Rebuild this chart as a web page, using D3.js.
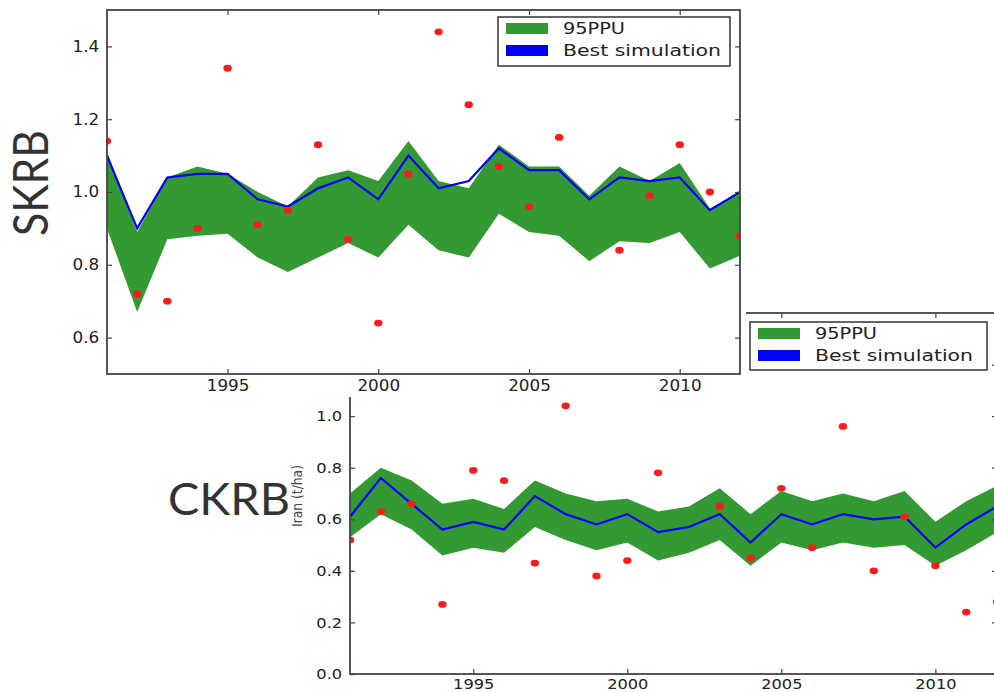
<!DOCTYPE html>
<html>
<head>
<meta charset="utf-8">
<title>SKRB / CKRB yield</title>
<script src="https://cdn.jsdelivr.net/npm/d3@7"></script>
<style>
body { margin: 0; background: #fff; }
svg text { font-family: "DejaVu Sans", sans-serif; fill: #222; }
.tick line { stroke: #444; stroke-width: 1.2; }
.frame { fill: none; stroke: #444; stroke-width: 1.8; }
.band { fill: #339933; }
.best { fill: none; stroke: #0000ff; stroke-width: 2.2; }
.obs { fill: #ff1a1a; }
.legend-box { fill: #fff; stroke: #333; stroke-width: 1.5; }
</style>
</head>
<body>
<svg id="chart" width="994" height="692"></svg>
<script>
// years on the x axis
var years = [1991,1992,1993,1994,1995,1996,1997,1998,1999,2000,2001,2002,2003,2004,2005,2006,2007,2008,2009,2010,2011,2012];
var yearTicks = [1995, 2000, 2005, 2010];

// SKRB (top panel)
var skrbBest  = [1.10,0.90,1.04,1.05,1.05,0.98,0.96,1.01,1.04,0.98,1.10,1.01,1.03,1.12,1.06,1.06,0.98,1.04,1.03,1.04,0.95,1.00];
var skrbUpper = [1.11,0.89,1.04,1.07,1.05,1.00,0.96,1.04,1.06,1.03,1.14,1.03,1.01,1.13,1.07,1.07,0.99,1.07,1.03,1.08,0.955,1.00];
var skrbLower = [0.90,0.67,0.87,0.88,0.885,0.82,0.78,0.82,0.86,0.82,0.91,0.84,0.82,0.94,0.89,0.88,0.81,0.865,0.86,0.89,0.79,0.825];
var skrbObs   = [1.14,0.72,0.70,0.90,1.34,0.91,0.95,1.13,0.87,0.64,1.05,1.44,1.24,1.07,0.96,1.15,null,0.84,0.99,1.13,1.00,0.88];
var skrbTicks = [0.6, 0.8, 1.0, 1.2, 1.4];

// CKRB (bottom panel)
var ckrbBest  = [0.61,0.76,0.66,0.56,0.59,0.56,0.69,0.62,0.58,0.62,0.55,0.57,0.62,0.51,0.62,0.58,0.62,0.60,0.61,0.49,0.58,0.65];
var ckrbUpper = [0.70,0.80,0.75,0.66,0.68,0.64,0.75,0.70,0.67,0.68,0.63,0.65,0.72,0.62,0.71,0.67,0.70,0.67,0.71,0.59,0.67,0.73];
var ckrbLower = [0.53,0.62,0.56,0.46,0.49,0.47,0.57,0.52,0.48,0.51,0.44,0.47,0.52,0.42,0.51,0.48,0.51,0.49,0.50,0.42,0.48,0.55];
var ckrbObs   = [0.52,0.63,0.66,0.27,0.79,0.75,0.43,1.04,0.38,0.44,0.78,null,0.65,0.45,0.72,0.49,0.96,0.40,0.61,0.42,0.24,0.28];
var ckrbTicks = [0.0, 0.2, 0.4, 0.6, 0.8, 1.0, 1.2];

var legendLabels = ["95PPU", "Best simulation"];

var svg = d3.select("#chart");

function drawPanel(id, box, yDomain, yTicks, best, upper, lower, obs, fontSize) {
    var x = d3.scaleLinear().domain([1991, 2012]).range([box.x0, box.x1]);
    var y = d3.scaleLinear().domain(yDomain).range([box.y1, box.y0]);
    var g = svg.append("g");

    g.append("clipPath").attr("id", id)
        .append("rect")
        .attr("x", box.x0).attr("y", box.y0)
        .attr("width", box.x1 - box.x0).attr("height", box.y1 - box.y0);

    var plot = g.append("g").attr("clip-path", "url(#" + id + ")");

    var rows = years.map(function(yr, i) {
        return { year: yr, best: best[i], hi: upper[i], lo: lower[i], obs: obs[i] };
    });

    var area = d3.area()
        .x(function(d) { return x(d.year); })
        .y0(function(d) { return y(d.lo); })
        .y1(function(d) { return y(d.hi); });
    plot.append("path").attr("class", "band").attr("d", area(rows));

    var line = d3.line()
        .x(function(d) { return x(d.year); })
        .y(function(d) { return y(d.best); });
    plot.append("path").attr("class", "best").attr("d", line(rows));

    plot.selectAll("ellipse")
        .data(rows.filter(function(d) { return d.obs !== null; }))
        .enter().append("ellipse")
        .attr("class", "obs")
        .attr("cx", function(d) { return x(d.year); })
        .attr("cy", function(d) { return y(d.obs); })
        .attr("rx", 4.2).attr("ry", 3.4);

    // axes, ticks pointing inward like old matplotlib
    var xb = g.append("g").attr("transform", "translate(0," + box.y1 + ")")
        .call(d3.axisBottom(x).tickValues(yearTicks).tickFormat(d3.format("d"))
            .tickSizeInner(-5).tickSizeOuter(0).tickPadding(box.xPad));
    var xt = g.append("g").attr("transform", "translate(0," + box.y0 + ")")
        .call(d3.axisTop(x).tickValues(yearTicks).tickFormat("")
            .tickSizeInner(-5).tickSizeOuter(0));
    var yl = g.append("g").attr("transform", "translate(" + box.x0 + ",0)")
        .call(d3.axisLeft(y).tickValues(yTicks).tickFormat(d3.format(".1f"))
            .tickSizeInner(-5).tickSizeOuter(0).tickPadding(7));
    var yr = g.append("g").attr("transform", "translate(" + box.x1 + ",0)")
        .call(d3.axisRight(y).tickValues(yTicks).tickFormat("")
            .tickSizeInner(-5).tickSizeOuter(0));

    [xb, xt, yl, yr].forEach(function(a) {
        a.select(".domain").remove();
        a.selectAll("text")
            .style("font-size", fontSize + "px")
            .style("fill", "#222")
            .attr("transform", "scale(1.12,1)");
    });

    g.append("rect").attr("class", "frame")
        .attr("x", box.x0).attr("y", box.y0)
        .attr("width", box.x1 - box.x0).attr("height", box.y1 - box.y0);
    return g;
}

function drawLegend(lx, ly, w, h, fontSize) {
    var lg = svg.append("g").attr("transform", "translate(" + lx + "," + ly + ")");
    lg.append("rect").attr("class", "legend-box").attr("width", w).attr("height", h);
    var colors = ["#339933", "#0000ff"];
    var widths = [62, 158];
    legendLabels.forEach(function(lab, i) {
        lg.append("rect")
            .attr("x", 8).attr("y", 6 + i * 22)
            .attr("width", 42).attr("height", 11)
            .attr("fill", colors[i]);
        lg.append("text")
            .attr("x", 65).attr("y", 17 + i * 22)
            .attr("textLength", widths[i])
            .attr("lengthAdjust", "spacingAndGlyphs")
            .style("font-size", fontSize + "px")
            .text(lab);
    });
}

// bottom panel (drawn first, the top panel sits over it)
drawPanel("clipB", { x0: 350, x1: 997, y0: 313, y1: 674, xPad: 5 },
    [0, 1.4], ckrbTicks, ckrbBest, ckrbUpper, ckrbLower, ckrbObs, 14.5);
drawLegend(750, 322, 237, 48, 16);

svg.append("text")
    .attr("transform", "translate(302,496) rotate(-90)")
    .attr("text-anchor", "middle")
    .attr("textLength", 62)
    .attr("lengthAdjust", "spacingAndGlyphs")
    .style("font-family", "'DejaVu Sans Condensed', 'Liberation Sans', sans-serif")
    .style("font-size", "14px")
    .style("fill", "#444")
    .text("Iran (t/ha)");

// white sheet of the top figure
svg.append("rect").attr("x", 0).attr("y", 0).attr("width", 746).attr("height", 397).attr("fill", "#fff");

drawPanel("clipT", { x0: 107, x1: 740, y0: 10, y1: 374, xPad: 6 },
    [0.5, 1.5], skrbTicks, skrbBest, skrbUpper, skrbLower, skrbObs, 15);
drawLegend(498, 17, 232, 49, 16);

svg.append("text")
    .attr("transform", "translate(48,183) rotate(-90)")
    .attr("text-anchor", "middle")
    .attr("textLength", 106)
    .attr("lengthAdjust", "spacingAndGlyphs")
    .style("font-family", "Lato, 'Open Sans', sans-serif")
    .style("font-size", "49px")
    .style("fill", "#333")
    .text("SKRB");

svg.append("text")
    .attr("x", 168).attr("y", 515)
    .attr("textLength", 122)
    .attr("lengthAdjust", "spacingAndGlyphs")
    .style("font-family", "Lato, 'Open Sans', sans-serif")
    .style("font-size", "45px")
    .style("fill", "#333")
    .text("CKRB");
</script>
</body>
</html>
